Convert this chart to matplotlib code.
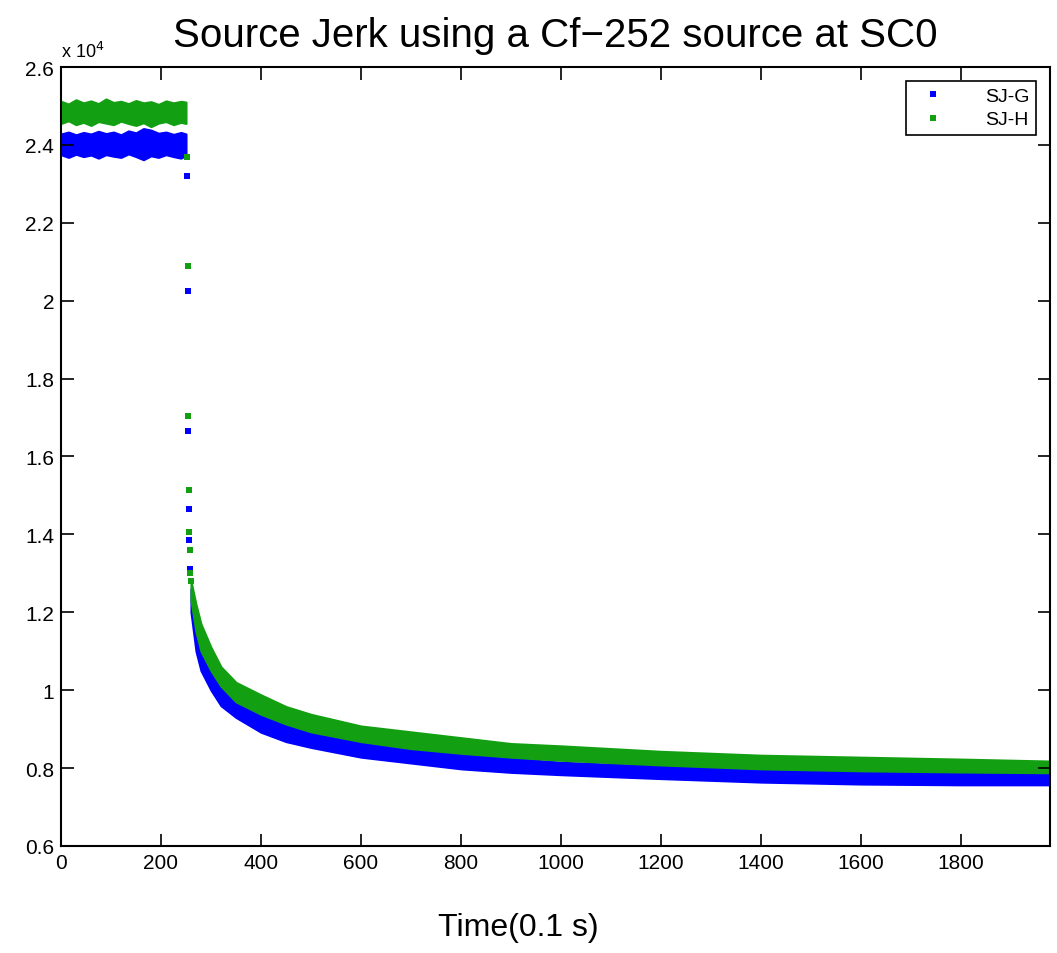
import numpy as np
import matplotlib
matplotlib.use("Agg")
import matplotlib.pyplot as plt
from matplotlib.ticker import FuncFormatter

plt.rcParams['font.family'] = ['Liberation Sans', 'DejaVu Sans']

# counts, in units of 10^4
# flat part before the source is pulled (band edges)
t_flat = [0, 15, 30, 45, 60, 75, 90, 105, 120, 135, 150, 165, 180, 195, 210, 225, 240, 250]
g_flat_lo = [2.375, 2.368, 2.376, 2.370, 2.374, 2.366, 2.375, 2.371, 2.368, 2.377,
             2.370, 2.362, 2.372, 2.368, 2.375, 2.370, 2.366, 2.374]
g_flat_hi = [2.428, 2.433, 2.426, 2.432, 2.428, 2.435, 2.429, 2.433, 2.426, 2.436,
             2.431, 2.442, 2.438, 2.430, 2.433, 2.427, 2.432, 2.428]
h_flat_lo = [2.455, 2.462, 2.452, 2.458, 2.450, 2.460, 2.456, 2.452, 2.461, 2.455,
             2.450, 2.457, 2.447, 2.456, 2.460, 2.452, 2.458, 2.455]
h_flat_hi = [2.512, 2.505, 2.516, 2.508, 2.513, 2.506, 2.518, 2.509, 2.512, 2.506,
             2.514, 2.508, 2.511, 2.504, 2.513, 2.508, 2.512, 2.510]

# single points during the jerk
g_jump_t = [253, 254, 255, 256, 257, 258]
g_jump_v = [2.32, 2.025, 1.665, 1.465, 1.385, 1.31]
h_jump_t = [252, 254, 255, 256, 257, 258, 259, 260]
h_jump_v = [2.37, 2.09, 1.705, 1.515, 1.405, 1.36, 1.30, 1.28]

# decay after the jerk (band edges)
t_decay = [260, 270, 280, 300, 320, 350, 400, 450, 500, 600, 700, 800,
           900, 1000, 1200, 1400, 1600, 1800, 1978]
g_decay_lo = [1.20, 1.10, 1.05, 1.00, 0.96, 0.93, 0.892, 0.868, 0.853, 0.828,
              0.813, 0.798, 0.789, 0.783, 0.773, 0.764, 0.759, 0.757, 0.757]
g_decay_hi = [1.26, 1.18, 1.12, 1.06, 1.01, 0.975, 0.935, 0.910, 0.890, 0.865,
              0.850, 0.835, 0.825, 0.815, 0.805, 0.795, 0.790, 0.788, 0.785]
h_decay_lo = [1.23, 1.15, 1.10, 1.05, 1.01, 0.97, 0.938, 0.913, 0.893, 0.868,
              0.850, 0.838, 0.828, 0.820, 0.808, 0.798, 0.793, 0.790, 0.788]
h_decay_hi = [1.28, 1.22, 1.17, 1.11, 1.06, 1.02, 0.988, 0.958, 0.938, 0.908,
              0.893, 0.878, 0.863, 0.857, 0.843, 0.833, 0.828, 0.823, 0.818]

labels = ['SJ-G', 'SJ-H']
blue = '#0000ff'
green = '#12a012'

fig = plt.figure(figsize=(10.57, 9.54), dpi=100)
ax = fig.add_axes([0.0577, 0.1122, 0.9357, 0.8165])

# SJ-G
ax.fill_between(t_flat, g_flat_lo, g_flat_hi, color=blue, lw=1.5, edgecolor=blue)
ax.fill_between(t_decay, g_decay_lo, g_decay_hi, color=blue, lw=1.5, edgecolor=blue)
ax.plot(g_jump_t, g_jump_v, 's', color=blue, ms=4.5, mew=0)
# SJ-H
ax.fill_between(t_flat, h_flat_lo, h_flat_hi, color=green, lw=1.5, edgecolor=green)
ax.fill_between(t_decay, h_decay_lo, h_decay_hi, color=green, lw=1.5, edgecolor=green)
ax.plot(h_jump_t, h_jump_v, 's', color=green, ms=4.5, mew=0)

# legend handles
hg, = ax.plot([], [], 's', color=blue, ms=4, mew=0, label=labels[0])
hh, = ax.plot([], [], 's', color=green, ms=4, mew=0, label=labels[1])
leg = ax.legend(handles=[hg, hh], loc='upper right', fontsize=14,
                fancybox=False, edgecolor='black', framealpha=1,
                borderaxespad=0.7, handlelength=2.0, handletextpad=1.7,
                borderpad=0.35, labelspacing=0.3)
leg.get_frame().set_linewidth(1.2)

ax.set_xlim(0, 1978)
ax.set_ylim(0.6, 2.6)
ax.set_xticks(np.arange(0, 1801, 200))
ax.set_yticks(np.arange(0.6, 2.61, 0.2))
ax.yaxis.set_major_formatter(FuncFormatter(lambda v, p: '%g' % round(v, 2)))
ax.tick_params(direction='in', top=True, right=True, length=9, width=1.2,
               labelsize=15, pad=5)
for s in ax.spines.values():
    s.set_linewidth(1.5)

ax.text(0.0, 1.008, r'x 10$^4$', transform=ax.transAxes, fontsize=13,
        ha='left', va='bottom')
ax.set_title('Source Jerk using a Cf\u2212252 source at SC0', fontsize=29, pad=15)
ax.set_xlabel('Time(0.1 s)', fontsize=23, labelpad=20)
ax.xaxis.set_label_coords(0.462, -0.085)

fig.savefig('out.png', dpi=100)
